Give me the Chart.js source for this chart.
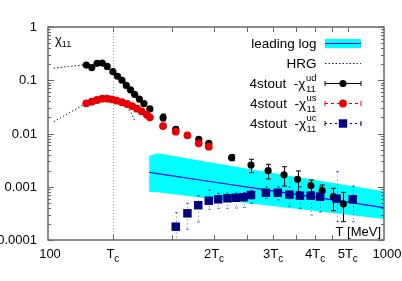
<!DOCTYPE html>
<html>
<head>
<meta charset="utf-8">
<script src="https://cdn.jsdelivr.net/npm/chart.js@4.4.1/dist/chart.umd.min.js"></script>
<style>
body { margin: 0; background: #fff; }
#wrap { width: 402px; height: 281px; position: relative; }
</style>
</head>
<body>
<div id="wrap"><canvas id="myChart"></canvas></div>
<script>
// critical temperature (MeV), used for the x tick marks
const Tc = 156;
const xTickMultiples = [1, 1.5, 2, 2.5, 3, 3.5, 4, 4.5, 5];
const xTickLabels = { 1: 'T', 2: '2T', 3: '3T', 4: '4T', 5: '5T' };
const yTickValues = [1, 0.1, 0.01, 0.001, 0.0001];
const yTickLabels = ['1', '0.1', '0.01', '0.001', '0.0001'];

// 4stout -chi11^ud
const udT = [130, 135, 140, 145, 150, 156, 161, 166, 171, 176, 181, 187, 193, 201, 220, 240, 281, 301, 352, 402, 452, 504, 553, 606, 655, 707, 757];
const udY = [0.193, 0.173, 0.208, 0.211, 0.182, 0.145, 0.119, 0.100, 0.080, 0.066, 0.0545, 0.0444, 0.0363, 0.0289, 0.0198, 0.0120, 0.00778, 0.00655, 0.00351, 0.00256, 0.00200, 0.00168, 0.00138, 0.00105, 0.000843, 0.000650, 0.000475];
const udLo = [null, null, null, null, null, null, null, null, null, null, null, null, null, null, 0.0172, 0.0109, 0.0072, 0.0061, 0.00308, 0.00184, 0.00140, 0.00103, 0.000807, 0.000807, 0.00067, 0.000355, 0.000221];
const udHi = [null, null, null, null, null, null, null, null, null, null, null, null, null, null, 0.0232, 0.0132, 0.0084, 0.0071, 0.0040, 0.00328, 0.00264, 0.00238, 0.00198, 0.00134, 0.00108, 0.000935, 0.000786];

// 4stout -chi11^us
const usT = [130, 135, 140, 145, 150, 155, 160, 166, 172, 178, 184, 190, 197, 201, 220, 240, 260, 281, 301];
const usY = [0.0369, 0.0396, 0.0426, 0.0450, 0.0450, 0.0439, 0.0413, 0.0386, 0.0358, 0.0328, 0.0292, 0.0261, 0.0225, 0.0201, 0.0138, 0.0108, 0.00925, 0.00655, 0.00565];

// 4stout -chi11^uc
const ucT = [240, 260, 280, 301, 321, 342, 362, 382, 402, 445, 483, 523, 562, 605, 645, 723, 807];
const ucY = [0.000178, 0.000317, 0.00045, 0.000547, 0.000581, 0.000607, 0.00062, 0.000637, 0.0007, 0.000773, 0.000773, 0.00071, 0.00068, 0.00068, 0.00065, 0.000597, 0.000581];
const ucLo = [0.000096, 0.000159, 0.000218, 0.000377, 0.000394, 0.000394, 0.000399, 0.000408, 0.000489, 0.000607, 0.000564, 0.000435, 0.000394, 0.000295, 0.000336, 0.000221, 0.000221];
const ucHi = [0.000326, 0.000489, 0.000679, 0.000869, 0.000753, 0.000763, 0.000763, 0.00078, 0.000843, 0.0010, 0.00099, 0.00099, 0.0010, 0.00099, 0.0010, 0.00192, 0.00103];

// leading log band and central line
const llT = [200, 212, 300, 500, 1000];
const llTop = [0.00378, 0.00425, 0.00292, 0.00168, 0.00082];
const llBottom = [0.000807, 0.00079, 0.000599, 0.000411, 0.000248];
const llLine = [0.00187, 0.00177, 0.00127, 0.000783, 0.000404];

// HRG curves
const hrgUdT = [104, 115, 130, 140, 150, 160, 170, 180, 190];
const hrgUdY = [0.168, 0.182, 0.196, 0.2, 0.175, 0.122, 0.083, 0.057, 0.04];
const hrgUsT = [104, 115, 130, 145, 155, 165, 172, 177, 182];
const hrgUsY = [0.0167, 0.024, 0.037, 0.045, 0.044, 0.038, 0.031, 0.024, 0.0165];

const FONT = '"Liberation Sans", Arial, sans-serif';
const NAVY = '#000080';
const RED = 'rgb(232,0,0)';

function pts(xs, ys) {
    return xs.map((x, i) => ({ x: x, y: ys[i] }));
}

// draws a row of [text, size, dy] pieces
function drawPieces(ctx, x, y, pieces, align) {
    const widths = pieces.map(p => {
        ctx.font = p[1] + 'px ' + FONT;
        return ctx.measureText(p[0]).width;
    });
    const total = widths.reduce((a, b) => a + b, 0);
    let sx = x;
    if (align === 'center') sx = x - total / 2;
    if (align === 'right') sx = x - total;
    ctx.textAlign = 'left';
    ctx.textBaseline = 'alphabetic';
    pieces.forEach((p, i) => {
        ctx.font = p[1] + 'px ' + FONT;
        ctx.fillText(p[0], sx, y + p[2]);
        sx += widths[i];
    });
}

const gnuplotLook = {
    id: 'gnuplotLook',
    beforeDatasetsDraw(chart) {
        const ctx = chart.ctx, a = chart.chartArea;
        const x = Math.round(chart.scales.x.getPixelForValue(Tc)) + 0.5;
        ctx.save();
        ctx.strokeStyle = '#999';
        ctx.lineWidth = 1;
        ctx.setLineDash([1, 2]);
        ctx.beginPath();
        ctx.moveTo(x, a.top);
        ctx.lineTo(x, a.bottom);
        ctx.stroke();
        ctx.restore();
    },
    beforeDatasetDraw(chart, args) {
        const ds = chart.data.datasets[args.index];
        if (!ds.errLo) return;
        const ctx = chart.ctx, a = chart.chartArea;
        const xs = chart.scales.x, ys = chart.scales.y;
        ctx.save();
        ctx.beginPath();
        ctx.rect(a.left, a.top, a.right - a.left, a.bottom - a.top);
        ctx.clip();
        ctx.strokeStyle = ds.errColor;
        ctx.lineWidth = 1;
        ds.data.forEach((p, i) => {
            if (ds.errLo[i] == null) return;
            const px = Math.round(xs.getPixelForValue(p.x)) + 0.5;
            const y1 = ys.getPixelForValue(ds.errHi[i]);
            const y2 = ys.getPixelForValue(ds.errLo[i]);
            ctx.setLineDash(ds.errDash || []);
            ctx.beginPath();
            ctx.moveTo(px, y1);
            ctx.lineTo(px, y2);
            ctx.stroke();
            ctx.setLineDash([]);
            ctx.beginPath();
            ctx.moveTo(px - ds.capW, y1);
            ctx.lineTo(px + ds.capW, y1);
            ctx.moveTo(px - ds.capW, y2);
            ctx.lineTo(px + ds.capW, y2);
            ctx.stroke();
        });
        ctx.restore();
    },
    afterDatasetsDraw(chart) {
        const ctx = chart.ctx, a = chart.chartArea;
        const xs = chart.scales.x, ys = chart.scales.y;
        ctx.save();
        // frame
        ctx.strokeStyle = '#666';
        ctx.lineWidth = 1.5;
        ctx.strokeRect(a.left, a.top, a.right - a.left, a.bottom - a.top);

        // y ticks, both sides, inward
        ctx.lineWidth = 1;
        ctx.beginPath();
        for (let d = -4; d <= 0; d++) {
            for (let m = 1; m <= 9; m++) {
                const v = m * Math.pow(10, d);
                if (v > 1) break;
                const y = Math.round(ys.getPixelForValue(v)) + 0.5;
                const len = m === 1 ? 6 : 3;
                ctx.moveTo(a.left, y); ctx.lineTo(a.left + len, y);
                ctx.moveTo(a.right, y); ctx.lineTo(a.right - len, y);
            }
        }
        // x ticks at multiples of Tc
        xTickMultiples.forEach(m => {
            const x = Math.round(xs.getPixelForValue(m * Tc)) + 0.5;
            ctx.moveTo(x, a.bottom); ctx.lineTo(x, a.bottom - 5);
            ctx.moveTo(x, a.top); ctx.lineTo(x, a.top + 5);
        });
        ctx.stroke();

        ctx.fillStyle = '#000';
        // y labels
        ctx.font = '13px ' + FONT;
        ctx.textAlign = 'right';
        ctx.textBaseline = 'middle';
        yTickValues.forEach((v, i) => {
            ctx.fillText(yTickLabels[i], a.left - 11, ys.getPixelForValue(v) + 0.5);
        });
        // x labels
        const base = a.bottom + 18;
        drawPieces(ctx, xs.getPixelForValue(100) + 2, base, [['100', 13, 0]], 'center');
        drawPieces(ctx, xs.getPixelForValue(1000) + 3, base, [['1000', 13, 0]], 'center');
        Object.keys(xTickLabels).forEach(k => {
            const x = xs.getPixelForValue(k * Tc);
            drawPieces(ctx, x, base, [[xTickLabels[k], 13, 0], ['c', 10, 4]], 'center');
        });

        // axis titles inside the frame
        drawPieces(ctx, a.left + 7, a.top + 17, [['\u03c7', 13, 0], ['11', 9, 3]], 'left');
        drawPieces(ctx, a.right - 3, a.bottom - 4, [['T [MeV]', 13, 0]], 'right');

        // legend
        const tx = 316.5, sx1 = 325, sx2 = 361, sxm = 343;
        ctx.font = '13.5px ' + FONT;
        ctx.textAlign = 'right';
        ctx.textBaseline = 'alphabetic';
        ctx.fillText('leading log', tx, 48);
        ctx.fillText('HRG', tx, 67.5);
        ctx.fillStyle = '#00ffff';
        ctx.fillRect(sx1, 39, sx2 - sx1, 9);
        ctx.strokeStyle = '#0000ff';
        ctx.lineWidth = 1;
        ctx.beginPath(); ctx.moveTo(sx1, 43.5); ctx.lineTo(sx2, 43.5); ctx.stroke();
        ctx.strokeStyle = '#222';
        ctx.setLineDash([1.5, 2]);
        ctx.beginPath(); ctx.moveTo(sx1, 63.5); ctx.lineTo(sx2, 63.5); ctx.stroke();

        const rows = [
            { sup: 'ud', y: 88.3, color: '#000', dash: [], mark: 'circle', r: 3.6 },
            { sup: 'us', y: 108.3, color: RED, dash: [3, 3], mark: 'circle', r: 3.9 },
            { sup: 'uc', y: 128.3, color: NAVY, dash: [2, 3], mark: 'rect', r: 4.2 }
        ];
        rows.forEach(row => {
            ctx.fillStyle = '#000';
            ctx.font = '9.5px ' + FONT;
            const sw = Math.max(ctx.measureText('11').width, ctx.measureText(row.sup).width);
            ctx.textAlign = 'left';
            ctx.fillText(row.sup, tx - sw, row.y - 7.3);
            ctx.fillText('11', tx - sw, row.y + 3.4);
            ctx.font = '13.5px ' + FONT;
            ctx.textAlign = 'right';
            ctx.fillText('4stout  -\u03c7', tx - sw - 0.5, row.y);
            const ly = Math.round(row.y - 5) + 0.5;
            ctx.strokeStyle = row.color;
            ctx.setLineDash(row.dash);
            ctx.beginPath(); ctx.moveTo(sx1, ly); ctx.lineTo(sx2, ly); ctx.stroke();
            ctx.setLineDash([]);
            ctx.beginPath();
            ctx.moveTo(sx1, ly - 2.5); ctx.lineTo(sx1, ly + 2.5);
            ctx.moveTo(sx2, ly - 2.5); ctx.lineTo(sx2, ly + 2.5);
            ctx.stroke();
            ctx.fillStyle = row.color;
            if (row.mark === 'circle') {
                ctx.beginPath(); ctx.arc(sxm, ly, row.r, 0, Math.PI * 2); ctx.fill();
            } else {
                ctx.fillRect(sxm - row.r, ly - row.r, row.r * 2, row.r * 2);
            }
        });
        ctx.restore();
    }
};

const ctx = document.getElementById('myChart').getContext('2d');
const myChart = new Chart(ctx, {
    type: 'scatter',
    data: {
        datasets: [
            {
                label: '4stout -chi11 uc',
                data: pts(ucT, ucY),
                pointStyle: 'rect', pointRadius: 6, pointBorderWidth: 0,
                backgroundColor: NAVY, borderColor: NAVY,
                errLo: ucLo, errHi: ucHi, errColor: 'rgba(0,0,128,0.55)', errDash: [1, 3], capW: 1.5
            },
            {
                label: '4stout -chi11 us',
                data: pts(usT, usY),
                pointRadius: 3.9, pointBorderWidth: 0,
                backgroundColor: RED, borderColor: RED
            },
            {
                label: '4stout -chi11 ud',
                data: pts(udT, udY),
                pointRadius: 3.6, pointBorderWidth: 0,
                backgroundColor: '#000', borderColor: '#000',
                errLo: udLo, errHi: udHi, errColor: '#000', capW: 2.5
            },
            {
                label: 'HRG ud',
                data: pts(hrgUdT, hrgUdY),
                showLine: true, pointRadius: 0, borderWidth: 1,
                borderColor: '#222', borderDash: [1.5, 2]
            },
            {
                label: 'HRG us',
                data: pts(hrgUsT, hrgUsY),
                showLine: true, pointRadius: 0, borderWidth: 1,
                borderColor: '#222', borderDash: [1.5, 2]
            },
            {
                label: 'leading log',
                data: pts(llT, llLine),
                showLine: true, pointRadius: 0, borderWidth: 1.2,
                borderColor: '#0000ff'
            },
            {
                label: 'band top',
                data: pts(llT, llTop),
                showLine: true, pointRadius: 0, borderWidth: 0,
                borderColor: 'rgba(0,0,0,0)', backgroundColor: '#00ffff',
                fill: '+1'
            },
            {
                label: 'band bottom',
                data: pts(llT, llBottom),
                showLine: true, pointRadius: 0, borderWidth: 0,
                borderColor: 'rgba(0,0,0,0)'
            }
        ]
    },
    options: {
        responsive: true,
        maintainAspectRatio: false,
        animation: false,
        layout: { padding: { left: 48, right: 18, top: 27, bottom: 41 } },
        plugins: {
            legend: { display: false },
            tooltip: { enabled: false }
        },
        scales: {
            x: { type: 'logarithmic', min: 100, max: 1000, display: false },
            y: { type: 'logarithmic', min: 0.0001, max: 1, display: false }
        }
    },
    plugins: [gnuplotLook]
});
</script>
</body>
</html>
